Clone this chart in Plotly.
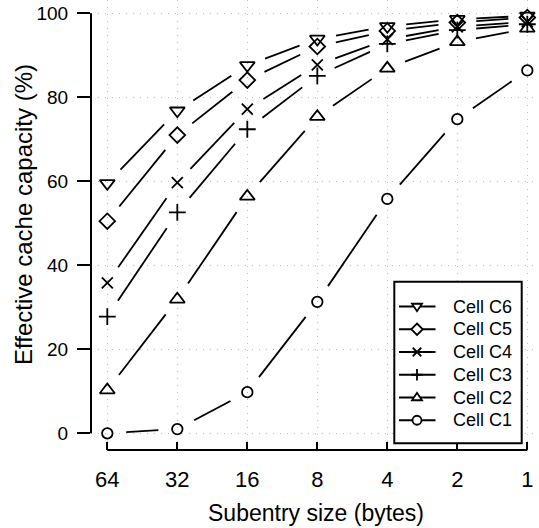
import math
import plotly.graph_objects as go

# ---- data ----
sizes = ["64", "32", "16", "8", "4", "2", "1"]
cell_c6 = [59.5, 76.8, 87.6, 93.9, 96.9, 98.6, 99.4]
cell_c5 = [50.5, 71.0, 84.1, 92.1, 95.8, 97.8, 99.0]
cell_c4 = [35.8, 59.7, 77.2, 87.7, 93.8, 96.8, 98.0]
cell_c3 = [27.8, 52.6, 72.4, 85.1, 92.7, 96.0, 97.4]
cell_c2 = [10.3, 31.9, 56.4, 75.4, 86.9, 93.2, 96.4]
cell_c1 = [0.0, 1.0, 9.8, 31.3, 55.8, 74.8, 86.4]
y_ticks = [0, 20, 40, 60, 80, 100]
names = ["Cell C6", "Cell C5", "Cell C4", "Cell C3", "Cell C2", "Cell C1"]

series = [
    (names[0], cell_c6, "triangle-down-open", 13, "tdown"),
    (names[1], cell_c5, "diamond-open", 12, "diamond"),
    (names[2], cell_c4, "x-thin-open", 11, "x"),
    (names[3], cell_c3, "cross-thin-open", 12, "plus"),
    (names[4], cell_c2, "triangle-up-open", 13, "tup"),
    (names[5], cell_c1, "circle-open", 10.5, "circle"),
]

# ---- layout geometry ----
W, H = 539, 528
ML, MR, MT, MB = 91, 0, 0, 78
PW, PH = W - ML - MR, H - MT - MB
XR = [-0.233, 6.167]
YR = [-3.98, 103.17]
SX = PW / (XR[1] - XR[0])
SY = PH / (YR[1] - YR[0])
GAP = 19.0  # pixel gap around each point (type="b" style)

FONT = "Liberation Sans, Arial, Helvetica, sans-serif"
LW = 1.8


def px(xp):
    return (xp - ML) / PW


def py(yp):
    return (H - MB - yp) / PH


xs = list(range(len(sizes)))

fig = go.Figure()

# gapped line segments
for name, vals, sym, msz, _ in series:
    sx_, sy_ = [], []
    for i in range(len(xs) - 1):
        x0, y0, x1, y1 = xs[i], vals[i], xs[i + 1], vals[i + 1]
        dxp = (x1 - x0) * SX
        dyp = (y1 - y0) * SY
        L = math.hypot(dxp, dyp)
        if L <= 2 * GAP:
            continue
        f = GAP / L
        sx_ += [x0 + f * (x1 - x0), x1 - f * (x1 - x0), None]
        sy_ += [y0 + f * (y1 - y0), y1 - f * (y1 - y0), None]
    fig.add_trace(go.Scatter(x=sx_, y=sy_, mode="lines",
                             line=dict(color="black", width=LW),
                             showlegend=False, hoverinfo="skip"))

# markers
for name, vals, sym, msz, _ in series:
    fig.add_trace(go.Scatter(x=xs, y=vals, mode="markers", name=name,
                             marker=dict(symbol=sym, size=msz, color="black",
                                         line=dict(color="black", width=LW)),
                             showlegend=False))

shapes = [
    dict(type="line", xref="x", yref="paper", x0=xs[0], x1=xs[-1], y0=0, y1=0,
         line=dict(color="black", width=2)),
    dict(type="line", xref="paper", yref="y", x0=0, x1=0, y0=y_ticks[0], y1=y_ticks[-1],
         line=dict(color="black", width=2)),
]
annotations = [
    dict(text="Subentry size (bytes)", xref="paper", yref="paper",
         x=px(315.7), y=py(513), xanchor="center", yanchor="middle",
         showarrow=False, font=dict(size=23, family=FONT, color="black")),
    dict(text="Effective cache capacity (%)", xref="paper", yref="paper",
         x=px(24), y=py(215), xanchor="center", yanchor="middle",
         textangle=-90, showarrow=False, font=dict(size=24, family=FONT, color="black")),
]

# ---- hand-built legend (R style) ----
LB = (394.3, 281.7, 521.7, 443.3)
shapes.append(dict(type="rect", xref="paper", yref="paper",
                   x0=px(LB[0]), x1=px(LB[2]), y0=py(LB[3]), y1=py(LB[1]),
                   line=dict(color="black", width=2), fillcolor="white", layer="above"))
ROW0, ROWD = 306.5, 22.75
MARK_X = 417.0
s = 5.0
# pixel-mode paths: positive y points up
sym_paths = {
    "tdown": f"M{-s},{0.55*s} L{s},{0.55*s} L0,{-0.95*s} Z",
    "tup": f"M{-s},{-0.55*s} L{s},{-0.55*s} L0,{0.95*s} Z",
    "diamond": f"M0,{-1.15*s} L{1.15*s},0 L0,{1.15*s} L{-1.15*s},0 Z",
    "x": f"M{-0.85*s},{-0.85*s} L{0.85*s},{0.85*s} M{-0.85*s},{0.85*s} L{0.85*s},{-0.85*s}",
    "plus": f"M{-1.15*s},0 L{1.15*s},0 M0,{-1.15*s} L0,{1.15*s}",
}
for k, (name, vals, sym, msz, key) in enumerate(series):
    yrow = ROW0 + k * ROWD
    shapes.append(dict(type="line", xref="paper", yref="paper",
                       x0=px(399), x1=px(435.5), y0=py(yrow), y1=py(yrow),
                       line=dict(color="black", width=LW), layer="above"))
    if key == "circle":
        shapes.append(dict(type="circle", xref="paper", yref="paper",
                           xsizemode="pixel", ysizemode="pixel",
                           xanchor=px(MARK_X), yanchor=py(yrow),
                           x0=-4.5, x1=4.5, y0=-4.5, y1=4.5,
                           line=dict(color="black", width=LW), fillcolor="white",
                           layer="above"))
    else:
        closed = key in ("tdown", "tup", "diamond")
        shapes.append(dict(type="path", xref="paper", yref="paper",
                           xsizemode="pixel", ysizemode="pixel",
                           xanchor=px(MARK_X), yanchor=py(yrow),
                           path=sym_paths[key],
                           line=dict(color="black", width=LW),
                           fillcolor="white" if closed else "rgba(0,0,0,0)",
                           layer="above"))
    annotations.append(dict(text=name, xref="paper", yref="paper",
                            x=px(451.0), y=py(yrow), xanchor="left", yanchor="middle",
                            showarrow=False,
                            font=dict(size=18, family=FONT, color="black")))

fig.update_layout(
    width=W, height=H,
    margin=dict(l=ML, r=MR, t=MT, b=MB, pad=0),
    paper_bgcolor="white", plot_bgcolor="white",
    font=dict(family=FONT, color="black"),
    showlegend=False,
    xaxis=dict(range=XR, tickvals=xs, ticktext=sizes,
               showgrid=True, gridcolor="#bdbdbd", gridwidth=1, griddash="1px,6px",
               zeroline=False, showline=False,
               ticks="inside", ticklen=8, tickwidth=2, tickcolor="black",
               tickfont=dict(size=22, family=FONT, color="black"),
               ticklabelstandoff=14, fixedrange=True),
    yaxis=dict(range=YR, tickvals=y_ticks,
               showgrid=True, gridcolor="#bdbdbd", gridwidth=1, griddash="1px,6px",
               zeroline=False, showline=False,
               ticks="outside", ticklen=13, tickwidth=2, tickcolor="black",
               tickfont=dict(size=19, family=FONT, color="black"),
               ticklabelstandoff=5, fixedrange=True),
    shapes=shapes,
    annotations=annotations,
)

fig.write_html("out.html", config={"displayModeBar": False},
               post_script="document.body.style.margin='0';document.body.style.padding='0';")
